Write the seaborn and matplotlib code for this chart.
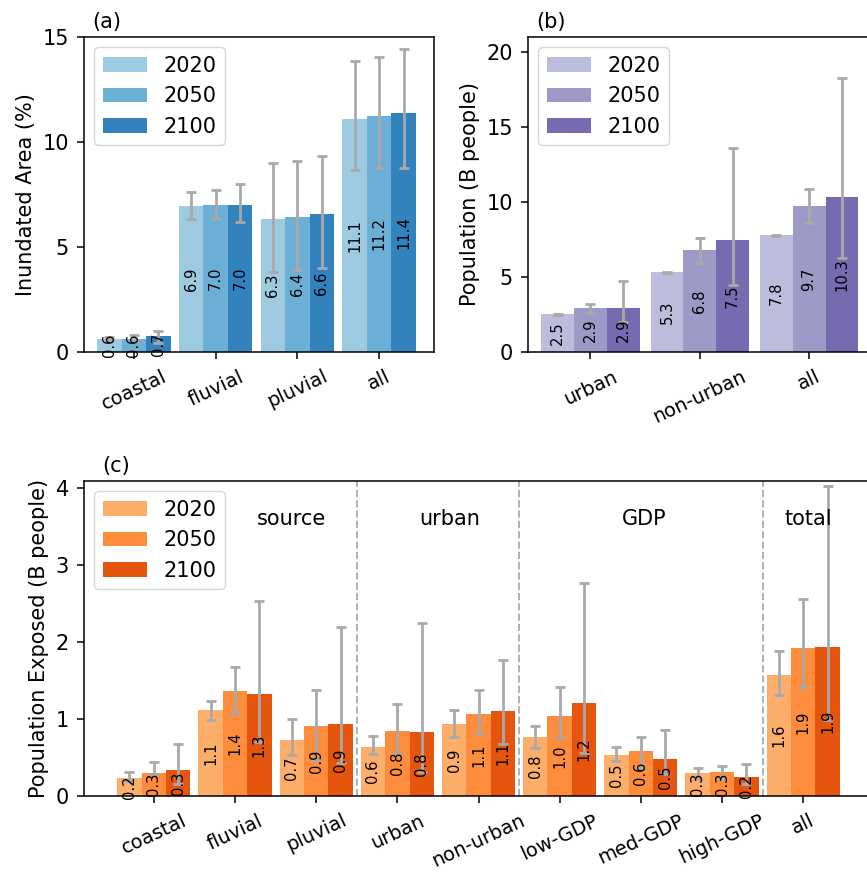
import pandas as pd
import matplotlib
matplotlib.use('Agg')
import matplotlib.pyplot as plt
import seaborn as sns

plt.rcParams['axes.linewidth'] = 1.1
plt.rcParams['xtick.major.width'] = 1.1
plt.rcParams['ytick.major.width'] = 1.1
plt.rcParams['xtick.major.size'] = 4.8
plt.rcParams['ytick.major.size'] = 4.8
plt.rcParams['xtick.major.pad'] = 6.0
plt.rcParams['ytick.major.pad'] = 6.0

years = ['2020', '2050', '2100']

# (a) inundated area (%)
area_cats = ['coastal', 'fluvial', 'pluvial', 'all']
area_2020 = [0.62, 6.93, 6.32, 11.10]
area_2050 = [0.64, 6.98, 6.42, 11.25]
area_2100 = [0.74, 7.00, 6.58, 11.40]
area_lo_2020 = [0.55, 6.33, 3.83, 8.68]
area_hi_2020 = [0.70, 7.60, 8.98, 13.86]
area_lo_2050 = [0.50, 6.33, 3.90, 8.78]
area_hi_2050 = [0.80, 7.73, 9.11, 14.06]
area_lo_2100 = [0.45, 6.20, 4.01, 8.75]
area_hi_2100 = [1.00, 7.98, 9.32, 14.44]

# (b) population (B people)
pop_cats = ['urban', 'non-urban', 'all']
pop_2020 = [2.52, 5.32, 7.80]
pop_2050 = [2.92, 6.80, 9.72]
pop_2100 = [2.93, 7.48, 10.34]
pop_lo_2020 = [2.50, 5.28, 7.76]
pop_hi_2020 = [2.56, 5.34, 7.82]
pop_lo_2050 = [2.62, 5.94, 8.60]
pop_hi_2050 = [3.23, 7.61, 10.85]
pop_lo_2100 = [2.00, 4.45, 6.30]
pop_hi_2100 = [4.73, 13.60, 18.30]

# (c) population exposed (B people)
exp_cats = ['coastal', 'fluvial', 'pluvial', 'urban', 'non-urban',
            'low-GDP', 'med-GDP', 'high-GDP', 'all']
exp_2020 = [0.24, 1.115, 0.73, 0.64, 0.93, 0.76, 0.53, 0.30, 1.57]
exp_2050 = [0.30, 1.36, 0.91, 0.84, 1.06, 1.04, 0.58, 0.31, 1.92]
exp_2100 = [0.34, 1.32, 0.93, 0.83, 1.10, 1.21, 0.48, 0.245, 1.94]
exp_lo_2020 = [0.20, 0.99, 0.53, 0.54, 0.76, 0.62, 0.46, 0.22, 1.31]
exp_hi_2020 = [0.31, 1.23, 1.00, 0.78, 1.115, 0.91, 0.64, 0.36, 1.88]
exp_lo_2050 = [0.29, 1.08, 0.47, 0.55, 0.82, 0.75, 0.36, 0.22, 1.42]
exp_hi_2050 = [0.44, 1.67, 1.37, 1.20, 1.37, 1.42, 0.76, 0.39, 2.56]
exp_lo_2100 = [0.15, 0.70, 0.43, 0.31, 0.67, 0.56, 0.29, 0.16, 0.99]
exp_hi_2100 = [0.68, 2.53, 2.20, 2.25, 1.77, 2.76, 0.855, 0.42, 4.02]

group_names = ['source', 'urban', 'GDP', 'total']
group_pos = [1.69, 3.64, 6.04, 8.06]
dividers = [2.5, 4.5, 7.5]


def to_frame(cats, vals):
    rows = []
    for year, v in zip(years, vals):
        for c, x in zip(cats, v):
            rows.append({'cat': c, 'year': year, 'val': x})
    return pd.DataFrame(rows)


def draw_panel(ax, cats, vals, lows, highs, palette, tag, ylabel, xlim, ylim):
    df = to_frame(cats, vals)
    sns.barplot(data=df, x='cat', y='val', hue='year', palette=palette,
                width=0.9, errorbar=None, saturation=1, linewidth=0, ax=ax)
    for cont, lo, hi in zip(ax.containers, lows, highs):
        xs = [p.get_x() + p.get_width() / 2 for p in cont]
        hs = list(cont.datavalues)
        yerr = [[h - l for h, l in zip(hs, lo)], [u - h for h, u in zip(hs, hi)]]
        ax.errorbar(xs, hs, yerr=yerr, fmt='none', ecolor='darkgray',
                    elinewidth=2.0, capsize=3.5, capthick=2.0)
        ax.bar_label(cont, fmt='%.1f', label_type='center', rotation=90,
                     fontsize=10.6)
    handles, labels = ax.get_legend_handles_labels()
    ax.legend(handles, labels, loc='upper left', fontsize=15,
              handlelength=2.1)
    ax.set_xlabel('')
    ax.set_ylabel(ylabel, fontsize=15, labelpad=5)
    ax.set_xlim(*xlim)
    ax.set_ylim(*ylim)
    ax.tick_params(axis='y', labelsize=15)
    ax.tick_params(axis='x', labelsize=14, labelrotation=25)
    ax.text(0.023, 1.03, tag, transform=ax.transAxes, fontsize=15,
            va='baseline')


W, H = 867, 873
fig = plt.figure(figsize=(W / 100, H / 100), dpi=100)
ax_a = fig.add_axes([84 / W, (H - 352) / H, 350 / W, 315 / H])
ax_b = fig.add_axes([528 / W, (H - 352) / H, 350 / W, 315 / H])
ax_c = fig.add_axes([84 / W, (H - 796) / H, 789 / W, 315 / H])

draw_panel(ax_a, area_cats, [area_2020, area_2050, area_2100],
           [area_lo_2020, area_lo_2050, area_lo_2100],
           [area_hi_2020, area_hi_2050, area_hi_2100],
           ['#9ecae1', '#6baed6', '#3182bd'], '(a)', 'Inundated Area (%)',
           (-0.61, 3.67), (0, 15))
ax_a.set_yticks([0, 5, 10, 15])

draw_panel(ax_b, pop_cats, [pop_2020, pop_2050, pop_2100],
           [pop_lo_2020, pop_lo_2050, pop_lo_2100],
           [pop_hi_2020, pop_hi_2050, pop_hi_2100],
           ['#bcbddc', '#9e9ac8', '#756bb1'], '(b)', 'Population (B people)',
           (-0.57, 2.63), (0, 21))
ax_b.set_yticks([0, 5, 10, 15, 20])

draw_panel(ax_c, exp_cats, [exp_2020, exp_2050, exp_2100],
           [exp_lo_2020, exp_lo_2050, exp_lo_2100],
           [exp_hi_2020, exp_hi_2050, exp_hi_2100],
           ['#fdae6b', '#fd8d3c', '#e6550d'], '(c)',
           'Population Exposed (B people)', (-0.86, 8.86), (0, 4.09))
ax_c.set_yticks([0, 1, 2, 3, 4])
for d in dividers:
    ax_c.axvline(d, color='#b0b0b0', linestyle='--', linewidth=1.4, zorder=0)
for name, x in zip(group_names, group_pos):
    ax_c.text(x, 3.6, name, ha='center', va='center', fontsize=15)

fig.savefig('out.png', dpi=100)
